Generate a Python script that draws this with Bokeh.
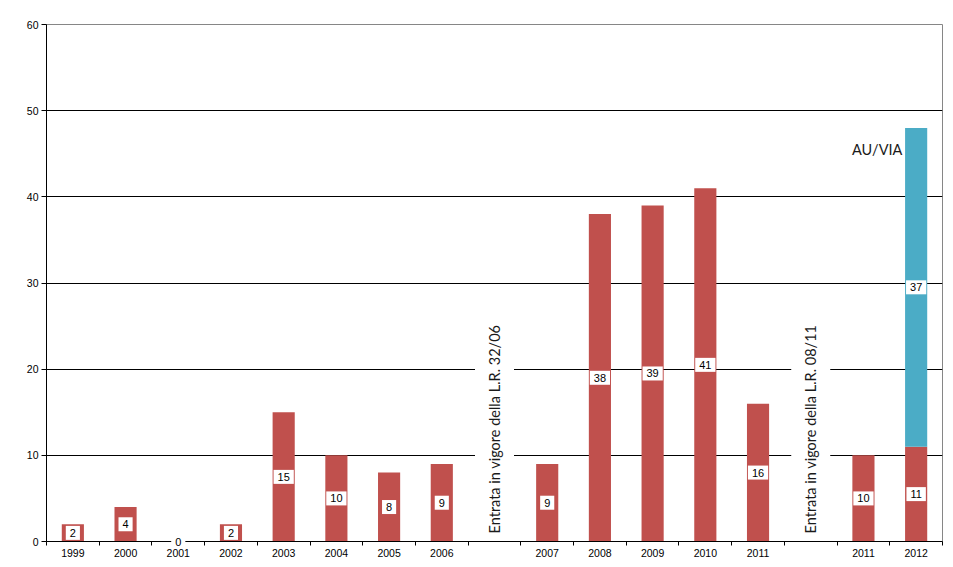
import math
from bokeh.plotting import figure
from bokeh.models import ColumnDataSource, FixedTicker, Label, Range1d
from bokeh.core.properties import value
from bokeh.embed import file_html
from bokeh.resources import INLINE

# ---- data ----
categories = ["1999", "2000", "2001", "2002", "2003", "2004", "2005", "2006", "",
              "2007", "2008", "2009", "2010", "2011", "", "2011", "2012"]
red_values = [2, 4, 0, 2, 15, 10, 8, 9, None, 9, 38, 39, 41, 16, None, 10, 11]
blue_values = [None, None, None, None, None, None, None, None, None,
               None, None, None, None, None, None, None, 37]
y_ticks = [0, 10, 20, 30, 40, 50, 60]
note_texts = ["Entrata in vigore della L.R. 32/06", "Entrata in vigore della L.R. 08/11"]
series_label = "AU/VIA"

RED = "#C0504D"
BLUE = "#4BACC6"
FONT = "Liberation Sans"

positions = list(range(1, len(categories) + 1))
boundaries = [p - 0.5 for p in positions] + [positions[-1] + 0.5]

# red segments
rx, rtop, rmid, rlab = [], [], [], []
for x, v in zip(positions, red_values):
    if v is None:
        continue
    rx.append(x); rtop.append(v); rmid.append(v / 2); rlab.append(str(v))
red_src = ColumnDataSource(dict(x=rx, top=rtop, mid=rmid, label=rlab))

# blue segments (stacked on red)
bx, bbot, btop, bmid, blab = [], [], [], [], []
for x, r, b in zip(positions, red_values, blue_values):
    if b is None:
        continue
    base = r or 0
    bx.append(x); bbot.append(base); btop.append(base + b)
    bmid.append(base + b / 2); blab.append(str(b))
blue_src = ColumnDataSource(dict(x=bx, bottom=bbot, top=btop, mid=bmid, label=blab))

p = figure(width=945, height=559, output_backend="svg", toolbar_location=None,
           x_range=Range1d(0.5, len(categories) + 0.5), y_range=Range1d(0, 60),
           min_border_left=46, min_border_right=3, min_border_top=24, min_border_bottom=18)

p.outline_line_color = "#868686"
p.background_fill_color = "white"
p.border_fill_color = "white"

p.vbar(x="x", top="top", bottom=0, width=0.42, source=red_src,
       fill_color=RED, line_color=None)
p.vbar(x="x", top="top", bottom="bottom", width=0.42, source=blue_src,
       fill_color=BLUE, line_color=None)

for src in (red_src, blue_src):
    p.text(x="x", y="mid", text="label", source=src, level="annotation",
           text_align="center", text_baseline="middle",
           text_font=value(FONT), text_font_size="11px", text_color="black",
           background_fill_color="white", padding=(4, 4, 3, 3))

# grid
p.xgrid.visible = False
p.ygrid.ticker = FixedTicker(ticks=[t for t in y_ticks if 0 < t < 60])
p.ygrid.grid_line_color = "black"
p.ygrid.grid_line_width = 1

# y axis
p.yaxis.ticker = FixedTicker(ticks=y_ticks)
p.yaxis.axis_line_color = "black"
p.yaxis.major_tick_line_color = "black"
p.yaxis.major_tick_out = 5
p.yaxis.major_tick_in = 0
p.yaxis.minor_tick_line_color = None
p.yaxis.major_label_standoff = 3
p.yaxis.major_label_text_font = FONT
p.yaxis.major_label_text_font_size = "10.5px"
p.yaxis.major_label_text_color = "black"

# x axis
p.xaxis.ticker = FixedTicker(ticks=positions, minor_ticks=boundaries)
p.xaxis.major_label_overrides = {x: c for x, c in zip(positions, categories)}
p.xaxis.axis_line_color = "black"
p.xaxis.major_tick_out = 0
p.xaxis.major_tick_in = 0
p.xaxis.major_tick_line_color = None
p.xaxis.minor_tick_out = 4
p.xaxis.minor_tick_in = 0
p.xaxis.minor_tick_line_color = "black"
p.xaxis.major_label_standoff = 3
p.xaxis.major_label_text_font = FONT
p.xaxis.major_label_text_font_size = "10.5px"
p.xaxis.major_label_text_color = "black"

# vertical notes in the gap slots
gap_positions = [x for x, c in zip(positions, categories) if c == ""]
for gx, note in zip(gap_positions, note_texts):
    p.add_layout(Label(x=gx, y=0.7, text=note, angle=math.pi / 2,
                       text_align="left", text_baseline="middle",
                       text_font="Lato", text_font_size="14.5px", text_color="#1a1a1a",
                       background_fill_color="white", padding=(2, 2, 11, 11)))

# series label
last = positions[-1]
p.add_layout(Label(x=last - 0.74, y=45.5, text=series_label,
                   text_align="center", text_baseline="middle",
                   text_font="Lato", text_font_size="14.5px", text_color="#1a1a1a"))

open("out.html", "w").write(file_html(p, INLINE))
